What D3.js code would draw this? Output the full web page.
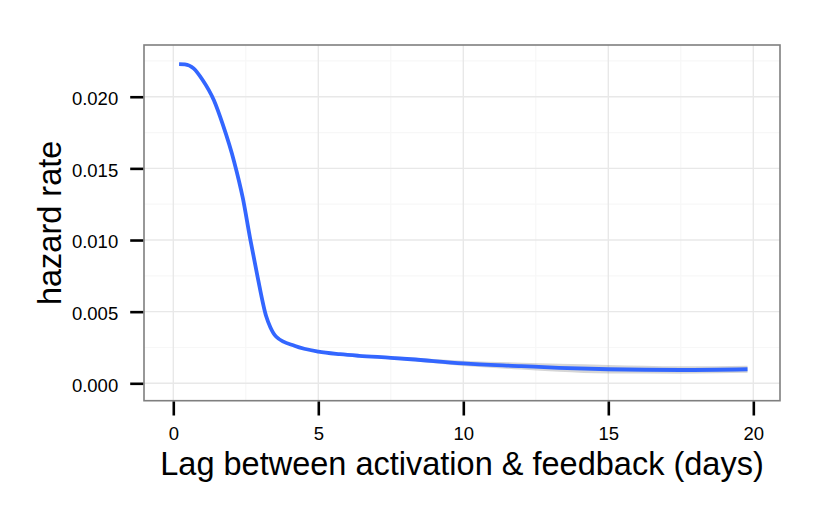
<!DOCTYPE html>
<html>
<head>
<meta charset="utf-8">
<script src="https://cdn.jsdelivr.net/npm/d3@7"></script>
<style>
  html, body { margin: 0; padding: 0; background: #fff; }
  svg { display: block; }
  text { font-family: "Liberation Sans", Arial, Helvetica, sans-serif; }
</style>
</head>
<body>
<svg id="chart" width="830" height="511"></svg>
<script>
// ---- data ----
const lagDays = [0.2, 0.4, 0.7, 1.0, 1.4, 1.7, 2.1, 2.4, 2.65, 2.9, 3.2, 3.35, 3.55, 4.2, 5.0, 5.75, 6.4, 7.5, 8.2, 10, 12, 13.3, 15, 17.5, 19.8];
const hazard  = [0.02228, 0.02226, 0.02198, 0.0212, 0.01975, 0.0181, 0.01545, 0.0129, 0.0101, 0.0075, 0.0047, 0.0039, 0.00325, 0.0026, 0.00221, 0.00203, 0.00192, 0.00178, 0.00168, 0.00139, 0.0012, 0.00108, 0.00098, 0.00093, 0.00098];
const bandHalf = [0.00004, 0.00004, 0.00004, 0.00004, 0.00004, 0.00004, 0.00004, 0.00004, 0.00004, 0.00004, 0.00004, 0.00004, 0.00004, 0.00005, 0.00006, 0.00007, 0.00008, 0.0001, 0.00012, 0.00018, 0.00024, 0.00028, 0.0003, 0.00026, 0.00025];
const xTicks = [0, 5, 10, 15, 20];
const xMinor = [2.5, 7.5, 12.5, 17.5];
const yTicks = [0, 0.005, 0.01, 0.015, 0.02];
const yMinor = [0.0025, 0.0075, 0.0125, 0.0175, 0.0225];
const xLabel = "Lag between activation & feedback (days)";
const yLabel = "hazard rate";

const svg = d3.select("#chart");
const L = 144, R = 780, T = 45, B = 400.7;

const x = d3.scaleLinear().domain([-1.01, 20.92]).range([L, R]);
const y = d3.scaleLinear().domain([-0.001214, 0.02361]).range([B, T]);

const data = lagDays.map((t, i) => ({ t, h: hazard[i], lo: hazard[i] - bandHalf[i], hi: hazard[i] + bandHalf[i] }));

// panel background
svg.append("rect").attr("x", L).attr("y", T).attr("width", R - L).attr("height", B - T).attr("fill", "#fff");

// grid
const g = svg.append("g");
g.selectAll(".xminor").data(xMinor).join("line")
  .attr("x1", d => x(d)).attr("x2", d => x(d)).attr("y1", T).attr("y2", B)
  .attr("stroke", "#f7f7f7").attr("stroke-width", 1.2);
g.selectAll(".yminor").data(yMinor).join("line")
  .attr("y1", d => y(d)).attr("y2", d => y(d)).attr("x1", L).attr("x2", R)
  .attr("stroke", "#f7f7f7").attr("stroke-width", 1.2);
g.selectAll(".xmajor").data(xTicks).join("line")
  .attr("x1", d => x(d)).attr("x2", d => x(d)).attr("y1", T).attr("y2", B)
  .attr("stroke", "#e8e8e8").attr("stroke-width", 1.4);
g.selectAll(".ymajor").data(yTicks).join("line")
  .attr("y1", d => y(d)).attr("y2", d => y(d)).attr("x1", L).attr("x2", R)
  .attr("stroke", "#e8e8e8").attr("stroke-width", 1.4);

// ribbon
svg.append("path").datum(data)
  .attr("d", d3.area().x(d => x(d.t)).y0(d => y(d.lo)).y1(d => y(d.hi)).curve(d3.curveMonotoneX))
  .attr("fill", "#999999").attr("fill-opacity", 0.4);

// line
svg.append("path").datum(data)
  .attr("d", d3.line().x(d => x(d.t)).y(d => y(d.h)).curve(d3.curveMonotoneX))
  .attr("fill", "none").attr("stroke", "#3366FF").attr("stroke-width", 3.8)
  .attr("stroke-linejoin", "round");

// border
svg.append("rect").attr("x", L).attr("y", T).attr("width", R - L).attr("height", B - T)
  .attr("fill", "none").attr("stroke", "#7f7f7f").attr("stroke-width", 1.6);

// axes
const xAxis = svg.append("g").attr("transform", `translate(0,${B + 0.8})`)
  .call(d3.axisBottom(x).tickValues(xTicks).tickSize(14).tickPadding(11).tickFormat(d3.format("d")));
const yAxis = svg.append("g").attr("transform", `translate(${L - 0.8},0)`)
  .call(d3.axisLeft(y).tickValues(yTicks).tickSize(13).tickPadding(12).tickFormat(d3.format(".3f")));
[xAxis, yAxis].forEach(a => {
  a.select(".domain").remove();
  a.selectAll(".tick line").attr("stroke", "#000").attr("stroke-width", 2.6);
  a.selectAll(".tick text").attr("fill", "#000").style("font-size", "18.5px")
    .style("font-family", '"Liberation Sans", Arial, Helvetica, sans-serif');
});
yAxis.selectAll(".tick text").attr("dy", "0.42em");

// axis titles
svg.append("text").attr("x", (L + R) / 2).attr("y", 475).attr("text-anchor", "middle")
  .style("font-size", "32.5px").attr("fill", "#000").text(xLabel);
svg.append("text").attr("transform", `translate(61,${(T + B) / 2}) rotate(-90)`)
  .attr("text-anchor", "middle").style("font-size", "32.5px").attr("fill", "#000").text(yLabel);
</script>
</body>
</html>
